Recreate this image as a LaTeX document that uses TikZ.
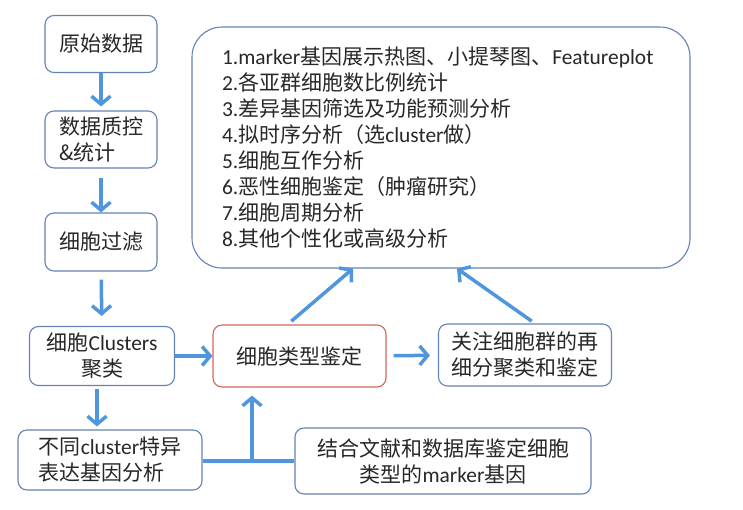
\documentclass[tikz,border=0pt]{standalone}
\usepackage{fontspec}
\setmainfont{Noto Sans CJK SC}
\newfontfamily\latinf[Scale=1.02]{Carlito}
\newcommand{\lat}[1]{{\latinf #1}}
\usetikzlibrary{arrows.meta}

\definecolor{boxblue}{RGB}{100,130,180}
\definecolor{boxred}{RGB}{215,100,90}
\definecolor{arrblue}{RGB}{80,150,220}
\definecolor{txtgray}{RGB}{40,40,40}

\begin{document}
\begin{tikzpicture}[
    x=1pt, y=-1pt,
    linet/.style={line width=3.5pt, draw=arrblue,
      -{Straight Barb[length=8pt,width=19pt]}},
    joint/.style={line width=3.5pt, draw=arrblue},
    punkt/.style={rectangle, rounded corners=9pt, draw=boxblue,
      line width=1.1pt, fill=white, inner sep=0pt, text=txtgray},
    redpunkt/.style={punkt, draw=boxred},
    bigpunkt/.style={punkt, rounded corners=30pt, align=left,
      text width=438pt, inner xsep=30pt, minimum height=241pt}
  ]
  \useasboundingbox (0,0) rectangle (743,509);
  \fontsize{21pt}{26pt}\selectfont
  \path (101,44) node(raw) [punkt, minimum width=112pt, minimum height=57pt] {
    原始数据}
  (101,139.5) node(qc) [punkt, minimum width=112pt, minimum height=57pt,
    align=left] {
    数据质控\\
    \&统计}
  (101,242) node(filt) [punkt, minimum width=112pt, minimum height=58pt] {
    细胞过滤}
  (102,356) node(clus) [punkt, minimum width=145pt, minimum height=59pt,
    align=center] {
    细胞\lat{Clusters}\\
    聚类}
  (110,460) node(deg) [punkt, minimum width=184pt, minimum height=60pt,
    align=left] {
    不同\lat{cluster}特异\\
    表达基因分析}
  (299.5,356) node(ctype) [redpunkt, minimum width=173pt, minimum height=62pt] {
    细胞类型鉴定}
  (525,355) node(sub) [punkt, minimum width=173pt, minimum height=62pt,
    align=left] {
    关注细胞群的再\\
    细分聚类和鉴定}
  (443,461) node(lit) [punkt, minimum width=296pt, minimum height=66pt,
    align=center] {
    结合文献和数据库鉴定细胞\\
    类型的\lat{marker}基因}
  (441,147.5) node(ana) [bigpunkt] {
    \lat{1.marker}基因展示热图、小提琴图、\lat{Featureplot}\\
    \lat{2.}各亚群细胞数比例统计\\
    \lat{3.}差异基因筛选及功能预测分析\\
    \lat{4.}拟时序分析（选\lat{cluster}做）\\
    \lat{5.}细胞互作分析\\
    \lat{6.}恶性细胞鉴定（肿瘤研究）\\
    \lat{7.}细胞周期分析\\
    \lat{8.}其他个性化或高级分析};
  \coordinate (mid) at (252,461);
  \coordinate (down) at (97,386);
  \draw[linet, shorten >=4pt] (raw) -- (qc);
  \draw[linet, shorten <=9pt] (qc) -- (filt);
  \draw[linet, shorten <=8pt, shorten >=10pt] (filt) -- (clus);
  \draw[linet, shorten <=3pt, shorten >=3pt] (down) -- (down |- deg.north);
  \draw[linet] (clus) -- (ctype);
  \draw[linet, shorten <=7pt, shorten >=8pt] (ctype) -- (sub);
  \draw[joint] (deg.east |- mid) -- (lit.west |- mid);
  \draw[linet, shorten >=8pt] (mid) -- (mid |- ctype.south);
  \draw[linet, shorten <=5pt] ([xshift=-12pt]ctype.north) -- ([xshift=-88pt]ana.south);
  \draw[linet, shorten <=4pt] ([xshift=10pt]sub.north) -- ([xshift=16pt]ana.south);
\end{tikzpicture}
\end{document}
